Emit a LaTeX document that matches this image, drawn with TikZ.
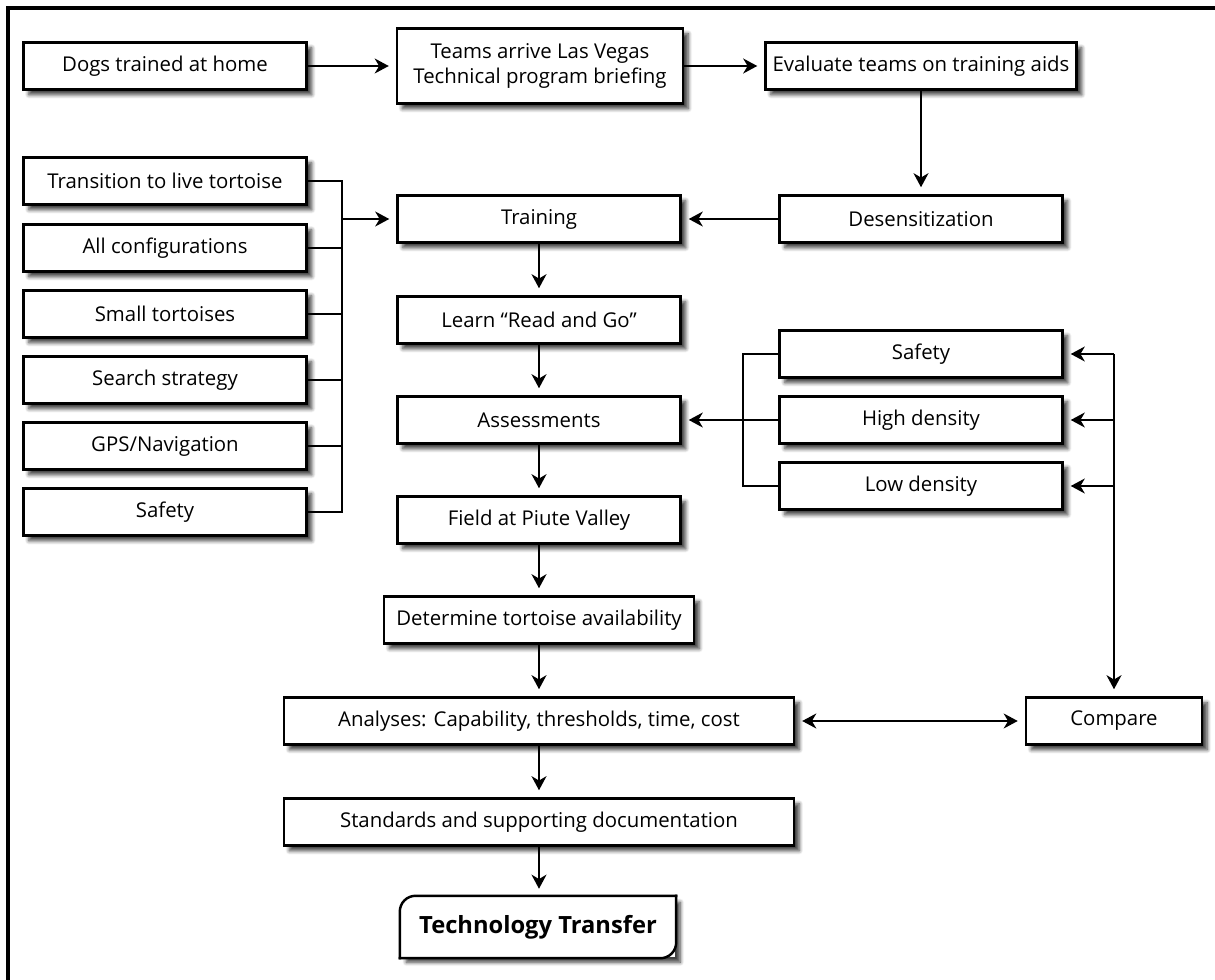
\documentclass[tikz,border=0pt]{standalone}
\usepackage{fontspec}
\setmainfont{Open Sans}
\usetikzlibrary{positioning, arrows.meta, shadows.blur}

\begin{document}
\begin{tikzpicture}[
    x=0.02cm, y=-0.02cm,
    box/.style={rectangle, draw, line width=1.4pt, fill=white, minimum width=5.66cm, minimum height=0.94cm,
        inner xsep=2pt, align=center, font=\fontsize{11.6}{14.5}\selectfont,
        blur shadow={shadow xshift=3pt, shadow yshift=-3pt, shadow blur steps=6, shadow opacity=75}},
    arrow/.style={-{Stealth[length=8pt, width=8.5pt, inset=2.5pt]}, line width=1.3pt, shorten >=4pt},
    link/.style={line width=1.3pt}
]
    \useasboundingbox (0,0) rectangle (1215,980);
    % outer frame
    \draw[line width=2pt] (1230,8) -- (8,8) -- (8,995);

    % top row
    \node[box] (dogs) at (165,66) {Dogs trained at home};
    \node[box, minimum width=5.72cm, minimum height=1.5cm] (arrive) at (540,66)
        {Teams arrive Las Vegas\\Technical program briefing};
    \node[box, minimum width=6.22cm] (evaluate) at (921,66) {Evaluate teams on training aids};
    \node[box] (desens) at (921,219) {Desensitization};

    % main column
    \node[box] (training) at (539,219) {Training};
    \node[box] (learn) at (539,320) {Learn “Read and Go”};
    \node[box] (assess) at (539,420) {Assessments};
    \node[box] (field) at (539,520) {Field at Piute Valley};
    \node[box, minimum width=6.2cm] (determine) at (539,620) {Determine tortoise availability};
    \node[box, minimum width=10.2cm] (analyses) at (539,721) {Analyses: Capability, thresholds, time, cost};
    \node[box, minimum width=10.2cm] (standards) at (539,822) {Standards and supporting documentation};
    \node[box, draw=none, minimum width=5.48cm, minimum height=1.2cm, font=\fontsize{13.5}{16}\selectfont\bfseries]
        (transfer) at (538,927) {Technology Transfer};
    \draw[line width=1.4pt, line cap=rect, rounded corners=9pt] (transfer.south west) |- (transfer.north east);
    \draw[line width=1.4pt, line cap=rect, rounded corners=9pt] (transfer.north east) |- (transfer.south west);

    % training topics
    \node[box] (trans) at (165,181) {Transition to live tortoise};
    \node[box] (allconf) at (165,248) {All configurations};
    \node[box] (small) at (165,314) {Small tortoises};
    \node[box] (search) at (165,380) {Search strategy};
    \node[box] (gps) at (165,446) {GPS/Navigation};
    \node[box] (safetyL) at (165,512) {Safety};

    % assessment topics
    \node[box] (safetyR) at (921,354) {Safety};
    \node[box] (high) at (921,420) {High density};
    \node[box] (low) at (921,486) {Low density};
    \node[box, minimum width=3.52cm] (compare) at (1114,721) {Compare};

    % arrows
    \draw[arrow] (dogs) -- (arrive);
    \draw[arrow] (arrive) -- (evaluate);
    \draw[arrow] (evaluate) -- (desens);
    \draw[arrow] (desens) -- (training);
    \draw[arrow] (training) -- (learn);
    \draw[arrow] (learn) -- (assess);
    \draw[arrow] (assess) -- (field);
    \draw[arrow] (field) -- (determine);
    \draw[arrow] (determine) -- (analyses);
    \draw[arrow] (analyses) -- (standards);
    \draw[arrow] (standards) -- (standards |- transfer.north);

    % left bracket
    \coordinate (ltop) at (342,181);
    \coordinate (lbot) at (342,512);
    \draw[link] (trans.east) -- (ltop) -- (lbot) -- (safetyL.east);
    \foreach \n in {allconf, small, search, gps}
        \draw[link] (\n.east) -- (\n.east -| ltop);
    \draw[arrow] (ltop |- training) -- (training);

    % right bracket
    \coordinate (rtop) at (743,354);
    \coordinate (rbot) at (743,486);
    \draw[link] (safetyR.west) -- (rtop) -- (rbot) -- (low.west);
    \draw[link] (high.west) -- (high.west -| rtop);
    \draw[arrow] (rtop |- assess) -- (assess);

    % compare feedback
    \coordinate (ctop) at (1114,354);
    \draw[arrow] (ctop) -- (compare);
    \foreach \n in {safetyR, high, low}
        \draw[arrow] (\n.east -| ctop) -- (\n.east);
    \draw[arrow, {Stealth[length=8pt, width=8.5pt, inset=2.5pt]}-{Stealth[length=8pt, width=8.5pt, inset=2.5pt]}, shorten <=4pt]
        (analyses) -- (compare);
\end{tikzpicture}
\end{document}
